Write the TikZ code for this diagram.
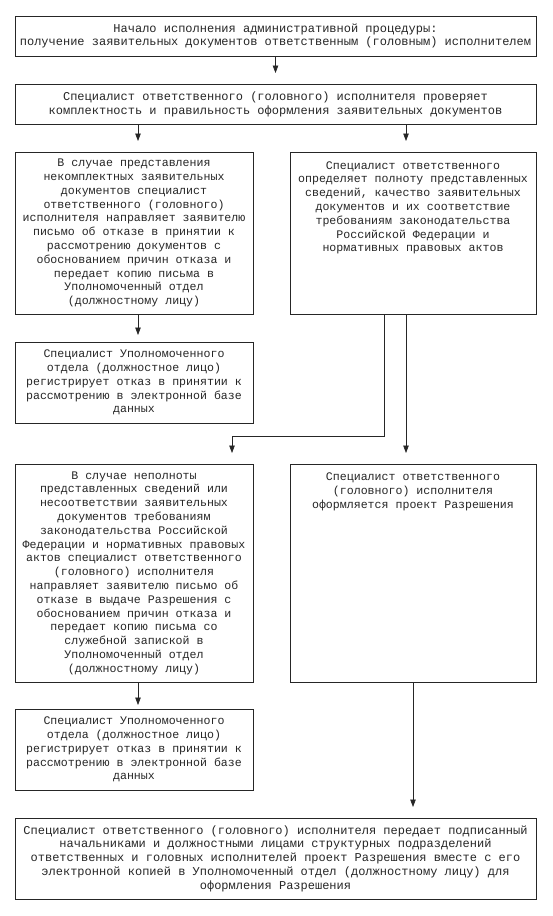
\documentclass[tikz,border=0pt]{standalone}
\usepackage{fontspec}
\newfontfamily\courfont{Liberation Mono}
\usetikzlibrary{arrows.meta}
\begin{document}
\begin{tikzpicture}[x=1pt,y=-1pt,
  base/.style={draw=black!85, line width=0.7pt, inner sep=0pt, outer sep=0pt, text=black!85},
  wide/.style={base, align=center, font=\courfont\fontsize{12}{13.8}\selectfont, minimum width=521pt, minimum height=40pt},
  narrow/.style={base, align=center, font=\courfont\fontsize{11.6}{13.8}\selectfont, minimum width=238pt},
  topbox/.style={base, font=\courfont\fontsize{11.6}{13.8}\selectfont},
  arr/.style={draw=black!85, line width=0.7pt, -{Triangle[width=5.5pt,length=7.5pt]}, shorten >=11pt}
]
\useasboundingbox (0,0) rectangle (552,916);
\fill[white] (0,0) rectangle (552,916);

\node[wide] (b1) at (275.5,36) {Начало исполнения административной процедуры:\\получение заявительных документов ответственным (головным) исполнителем};

\node[wide] (b2) at (275.5,104) {Специалист ответственного (головного) исполнителя проверяет\\комплектность и правильность оформления заявительных документов};

\node[narrow, minimum height=162pt] (b3) at (134,233) {В случае представления\\некомплектных заявительных\\документов специалист\\ответственного (головного)\\исполнителя направляет заявителю\\письмо об отказе в принятии к\\рассмотрению документов с\\обоснованием причин отказа и\\передает копию письма в\\Уполномоченный отдел\\(должностному лицу)};

\node[topbox] (b4) at (413,233) {\parbox[c][162pt][t]{246pt}{\centering\rule{0pt}{17pt}Специалист ответственного\\определяет полноту представленных\\сведений, качество заявительных\\документов и их соответствие\\требованиям законодательства\\Российской Федерации и\\нормативных правовых актов\par}};

\node[narrow, minimum height=81pt] (b5) at (134,382.5) {Специалист Уполномоченного\\отдела (должностное лицо)\\регистрирует отказ в принятии к\\рассмотрению в электронной базе\\данных};

\node[narrow, minimum height=218pt] (b6) at (134,573) {В случае неполноты\\представленных сведений или\\несоответствии заявительных\\документов требованиям\\законодательства Российской\\Федерации и нормативных правовых\\актов специалист ответственного\\(головного) исполнителя\\направляет заявителю письмо об\\отказе в выдаче Разрешения с\\обоснованием причин отказа и\\передает копию письма со\\служебной запиской в\\Уполномоченный отдел\\(должностному лицу)};

\node[topbox] (b7) at (413,573) {\parbox[c][218pt][t]{246pt}{\centering\rule{0pt}{16.5pt}Специалист ответственного\\(головного) исполнителя\\оформляется проект Разрешения\par}};

\node[narrow, minimum height=81pt] (b8) at (134,749.5) {Специалист Уполномоченного\\отдела (должностное лицо)\\регистрирует отказ в принятии к\\рассмотрению в электронной базе\\данных};

\node[wide, minimum height=81pt] (b9) at (275.5,858.5) {Специалист ответственного (головного) исполнителя передает подписанный\\начальниками и должностными лицами структурных подразделений\\ответственных и головных исполнителей проект Разрешения вместе с его\\электронной копией в Уполномоченный отдел (должностному лицу) для\\оформления Разрешения};

\coordinate (xL) at (138,0);
\coordinate (xR) at (406,0);
\coordinate (xJ) at (384,0);
\coordinate (xM) at (232,0);
\coordinate (xB) at (413,0);
\coordinate (yJ) at (0,436);

\draw[arr] (b1) -- (b2);
\draw[arr] (xL |- b2.south) -- (xL |- b3.north);
\draw[arr] (xR |- b2.south) -- (xR |- b4.north);
\draw[arr, shorten >=7pt] (xL |- b3.south) -- (xL |- b5.north);
\draw[arr] (xJ |- b4.south) -- (xJ |- yJ) -- (xM |- yJ) -- (xM |- b6.north);
\draw[arr] (xR |- b4.south) -- (xR |- b7.north);
\draw[arr, shorten >=4pt] (xL |- b6.south) -- (xL |- b8.north);
\draw[arr] (xB |- b7.south) -- (xB |- b9.north);
\end{tikzpicture}
\end{document}
